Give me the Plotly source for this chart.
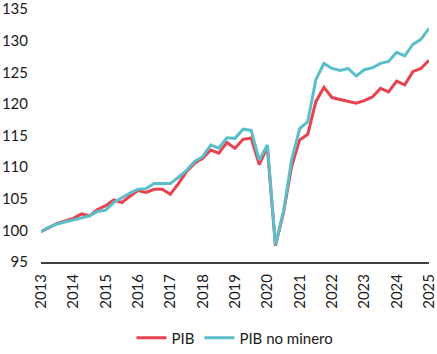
import plotly.graph_objects as go

start_year = 2013
pib = [99.8, 100.5, 101.1, 101.5, 101.9, 102.6, 102.3, 103.3, 103.9, 104.8,
       104.4, 105.4, 106.3, 106.0, 106.5, 106.5, 105.7, 107.4, 109.3, 110.6,
       111.4, 112.7, 112.2, 113.9, 113.0, 114.4, 114.6, 110.4, 113.2, 97.6,
       102.8, 110.1, 114.3, 115.2, 120.35, 122.6, 121.0, 120.7, 120.45, 120.1,
       120.5, 121.1, 122.45, 121.9, 123.6, 123.0, 125.1, 125.6, 126.9]
pib_no_minero = [99.8, 100.5, 101.0, 101.3, 101.6, 102.0, 102.3, 103.0, 103.2, 104.4,
                 105.2, 105.9, 106.5, 106.6, 107.4, 107.4, 107.4, 108.4, 109.5, 110.9,
                 111.65, 113.5, 113.0, 114.65, 114.55, 116.0, 115.8, 111.1, 113.5, 97.7,
                 103.0, 111.1, 116.1, 117.2, 123.8, 126.4, 125.6, 125.3, 125.6, 124.4,
                 125.4, 125.7, 126.4, 126.7, 128.15, 127.6, 129.4, 130.2, 131.95]
years = list(range(2013, 2026))
x = [start_year + i / 4 for i in range(len(pib))]

fig = go.Figure()
fig.add_trace(go.Scatter(x=x, y=pib, mode="lines", name="PIB",
                         line=dict(color="#E8414F", width=3)))
fig.add_trace(go.Scatter(x=x, y=pib_no_minero, mode="lines", name="PIB no minero",
                         line=dict(color="#5BBFCB", width=3)))

fig.update_layout(
    width=437, height=354,
    margin=dict(l=41, r=8, t=9, b=92, autoexpand=False),
    paper_bgcolor="white", plot_bgcolor="white",
    font=dict(family="Lato, sans-serif", size=15, color="#1a1a1a"),
    showlegend=True,
    legend=dict(orientation="h", x=0.5, xanchor="center",
                yref="container", y=0.045, yanchor="middle",
                font=dict(size=15), itemwidth=30, traceorder="normal"),
    xaxis=dict(range=[2013, 2025], tickmode="array", tickvals=years,
               ticktext=[str(y) for y in years], tickangle=-90,
               showgrid=False, zeroline=False, showline=True, automargin=False,
               linecolor="#404040", linewidth=2, ticks="", ticklabelstandoff=4,
               ticklabeloverflow="allow"),
    yaxis=dict(range=[95, 135], tickmode="array",
               tickvals=[95, 100, 105, 110, 115, 120, 125, 130, 135],
               ticktext=["95", "100", "105", "110", "115", "120", "125", "130", "135"],
               showgrid=False, zeroline=False, showline=False, ticks="", automargin=False,
               ticklabelstandoff=12, ticklabeloverflow="allow"),
)

fig.write_html("out.html")
